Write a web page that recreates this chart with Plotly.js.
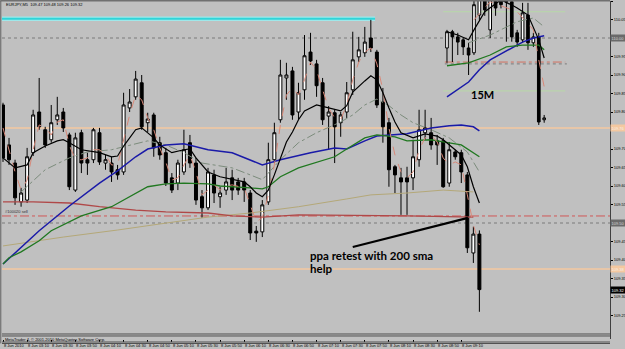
<!DOCTYPE html>
<html><head><meta charset="utf-8">
<script src="https://cdn.plot.ly/plotly-3.0.1.min.js"></script>
<style>html,body{margin:0;padding:0;background:#c0c0c0;}#chart{width:625px;height:349px;}</style>
</head><body><div id="chart"></div>
<script>
// ---- main M5 candles (bar index 0 = 8 Jun 02:50, 5 min per bar) ----
const opens = [109.819,109.711,109.662,109.557,109.562,109.690,109.800,109.752,109.725,109.779,
109.800,109.738,109.589,109.744,109.671,109.671,109.744,109.662,109.662,109.644,
109.638,109.811,109.841,109.879,109.771,109.792,109.717,109.690,109.622,109.608,
109.638,109.717,109.662,109.571,109.541,109.630,109.571,109.589,109.622,109.611,
109.611,109.581,109.478,109.476,109.557,109.671,109.779,109.892,109.911,109.800,
109.860,109.962,109.930,109.879,109.789,109.798,109.771,109.800,109.860,109.949,
109.960,110.000,109.962,109.827,109.771,109.652,109.622,109.622,109.622,109.671,
109.744,109.744,109.722,109.722,109.608,109.692,109.690,109.630,109.419,109.47];
const highs = [109.825,109.730,109.671,109.595,109.703,109.806,109.892,109.760,109.819,109.841,
109.811,109.744,109.744,109.752,109.690,109.757,109.757,109.684,109.679,109.657,
109.852,109.862,109.911,109.900,109.798,109.798,109.733,109.703,109.635,109.671,
109.752,109.738,109.676,109.589,109.649,109.644,109.598,109.649,109.644,109.622,
109.622,109.589,109.492,109.562,109.717,109.771,109.941,109.933,109.922,109.879,
110.008,110.014,109.941,109.892,109.816,109.806,109.800,109.881,110.017,110.003,
110.030,110.049,109.968,109.865,109.784,109.657,109.649,109.652,109.725,109.806,
109.806,109.784,109.738,109.730,109.719,109.698,109.698,109.638,109.49,109.48];
const lows = [109.665,109.657,109.549,109.544,109.554,109.681,109.752,109.703,109.717,109.765,
109.746,109.589,109.584,109.635,109.630,109.662,109.657,109.644,109.611,109.617,
109.630,109.800,109.833,109.752,109.746,109.679,109.671,109.600,109.581,109.589,
109.630,109.649,109.549,109.514,109.535,109.554,109.541,109.576,109.562,109.576,
109.557,109.454,109.449,109.462,109.549,109.662,109.771,109.833,109.779,109.779,
109.833,109.927,109.841,109.765,109.698,109.662,109.733,109.784,109.846,109.935,
109.949,109.962,109.811,109.717,109.598,109.581,109.522,109.522,109.589,109.652,
109.725,109.698,109.657,109.595,109.598,109.671,109.608,109.419,109.392,109.26];
const closes = [109.676,109.671,109.568,109.581,109.679,109.792,109.760,109.711,109.771,109.792,
109.757,109.598,109.730,109.662,109.662,109.752,109.665,109.671,109.638,109.630,
109.819,109.827,109.889,109.760,109.781,109.703,109.684,109.608,109.589,109.662,
109.698,109.662,109.562,109.541,109.638,109.581,109.581,109.611,109.589,109.589,
109.589,109.473,109.473,109.549,109.671,109.744,109.900,109.900,109.792,109.852,
109.952,109.938,109.871,109.779,109.800,109.760,109.792,109.852,109.941,109.968,
109.989,109.973,109.819,109.760,109.644,109.630,109.611,109.611,109.679,109.752,
109.757,109.711,109.711,109.598,109.698,109.679,109.638,109.433,109.47,109.32];
const barIdx = opens.map((_, i) => i);

// ---- moving averages (bar index, price) ----
const blueX = [0,6,11,16,19,22,24,27,30,34,38,43,46,51,55,57,60,62,67,71,74,76,78,79];
const blueY = [109.389,109.479,109.546,109.608,109.641,109.679,109.700,109.711,109.714,109.698,109.690,109.657,109.671,109.690,109.703,109.700,109.722,109.735,109.741,109.757,109.763,109.765,109.760,109.749];
const greenX = [0,1,3,6,8,13,18,22,24,27,30,34,36,41,43,44,46,49,52,55,57,60,62,65,67,71,73,76,79];
const greenY = [109.389,109.406,109.422,109.452,109.479,109.519,109.544,109.581,109.598,109.606,109.608,109.606,109.600,109.595,109.592,109.598,109.625,109.649,109.665,109.679,109.700,109.730,109.738,109.733,109.722,109.725,109.719,109.711,109.679];
const blackX = [0,2,4,5,7,9,10,11,13,16,18,19,20,22,23,25,26,28,30,31,32,34,36,38,40,41,42,43,44,45,46,47,48,49,50,52,54,56,57,58,60,61,62,63,64,65,66,68,70,72,73,75,76,77,78,79];
const blackY = [109.676,109.649,109.657,109.690,109.708,109.722,109.725,109.717,109.698,109.690,109.679,109.681,109.708,109.752,109.757,109.730,109.711,109.690,109.698,109.700,109.676,109.638,109.625,109.619,109.611,109.598,109.581,109.571,109.589,109.630,109.676,109.719,109.746,109.779,109.803,109.819,109.811,109.803,109.817,109.854,109.884,109.898,109.887,109.852,109.811,109.773,109.744,109.730,109.741,109.735,109.725,109.698,109.684,109.652,109.598,109.554];
const salmonY = [109.757,109.698,109.638,109.589,109.616,109.698,109.765,109.757,109.738,109.773,
109.779,109.711,109.671,109.671,109.676,109.698,109.698,109.684,109.657,109.657,
109.725,109.792,109.846,109.833,109.784,109.752,109.703,109.665,109.616,109.622,
109.657,109.684,109.638,109.576,109.589,109.603,109.589,109.600,109.603,109.598,
109.595,109.549,109.503,109.514,109.576,109.657,109.765,109.846,109.865,109.846,
109.887,109.935,109.914,109.860,109.811,109.784,109.779,109.819,109.887,109.935,
109.962,109.973,109.930,109.860,109.757,109.684,109.638,109.622,109.638,109.698,
109.730,109.738,109.719,109.676,109.657,109.665,109.657,109.576,109.495,109.441];
const grayX = [3,7,11,14,18,20,24,27,30,33,38,41,43,46,49,52,56,58,60,62,64,66,68,71,74,77,79];
const grayY = [109.584,109.644,109.676,109.692,109.698,109.706,109.722,109.711,109.690,109.662,109.649,109.630,109.617,109.671,109.717,109.744,109.773,109.792,109.819,109.835,109.817,109.792,109.771,109.752,109.730,109.692,109.638];
const oliveX = [0,10,19,26,34,41,49,57,61,67,73,78];
const oliveY = [109.438,109.462,109.481,109.498,109.516,109.527,109.544,109.565,109.576,109.581,109.589,109.584];
const sma200X = [0,5,11,16,22,27,34,38,43,49,67,78];
const sma200Y = [109.557,109.557,109.554,109.544,109.535,109.530,109.527,109.519,109.516,109.522,109.519,109.516];

// ---- price levels ----
const cyanLevel = 110.052, cyanEndBar = 61.7;
const dottedHigh = 110.00, dottedLow = 109.50;
const orangeHigh = 109.757, orangeLow = 109.376;
const sellLevel = 109.519;
const lastPrice = 109.32;
const trendX = [58.0, 77.1], trendY = [109.435, 109.514];
const priceTicks = [110.10,110.05,109.95,109.90,109.85,109.80,109.70,109.65,109.60,109.55,109.45,109.40,109.35,109.30,109.25];

// ---- time labels ----
const timeLabels = ['8 Jun 2010','8 Jun 03:10','8 Jun 03:30','8 Jun 03:50','8 Jun 04:10','8 Jun 04:30','8 Jun 04:50','8 Jun 05:10','8 Jun 05:30','8 Jun 05:50','8 Jun 06:10','8 Jun 06:30','8 Jun 06:50','8 Jun 07:10','8 Jun 07:30','8 Jun 07:50','8 Jun 08:10','8 Jun 08:30','8 Jun 08:50','8 Jun 09:10'];
const timeBars = timeLabels.map((_, k) => k * 4);

// ---- inset 15M chart ----
const inO = [109.973,110.017,110.003,109.995,109.973,109.960,110.062,110.117,110.022,110.111,110.103,110.098,110.098,110.014,109.995,110.062,109.987,110.003,109.779];
const inH = [110.022,110.022,110.014,110.000,109.987,110.110,110.130,110.130,110.140,110.130,110.120,110.110,110.110,110.022,110.095,110.095,110.014,110.014,109.792];
const inL = [109.933,109.935,109.954,109.954,109.900,109.954,110.049,110.060,110.000,110.060,110.080,109.990,109.990,109.976,109.987,109.968,109.976,109.765,109.771];
const inC = [110.017,110.003,109.989,109.976,109.954,110.090,110.117,110.076,110.117,110.081,110.090,110.098,110.003,109.989,110.068,109.987,110.003,109.773,109.784];
const inIdx = inO.map((_, j) => j);
const inBlueX = [0,2,4,6,8,10,12,14,16,18];
const inBlueY = [109.841,109.860,109.881,109.914,109.941,109.957,109.973,109.989,110.000,110.006];
const inGreenX = [0,4,8,11,14,17,18];
const inGreenY = [109.925,109.933,109.954,109.976,109.981,109.981,109.968];
const inBlackX = [0,2,4,5,7,10,12,13,15,16,17,18];
const inBlackY = [110.017,110.008,109.995,110.022,110.071,110.103,110.089,110.081,110.062,110.027,109.995,109.946];
const inSalmonX = [5,8,13,16,17,18];
const inSalmonY = [110.049,110.098,110.071,110.022,109.941,109.868];
const inGrayX = [4,8,13,16,18];
const inGrayY = [109.987,110.008,110.044,110.054,110.030];
const inLevels = [110.071, 109.857];
const inRed = 109.935, inDot = 109.930;

const candleStyle = {
  increasing: {line: {color: '#000000', width: 1}, fillcolor: '#ffffff'},
  decreasing: {line: {color: '#000000', width: 1}, fillcolor: '#000000'},
  hoverinfo: 'skip', showlegend: false
};
function line(x, y, color, width, dash, xa) {
  return {type: 'scatter', mode: 'lines', x: x, y: y, xaxis: xa || 'x', yaxis: 'y',
    line: {color: color, width: width, dash: dash || 'solid'}, hoverinfo: 'skip', showlegend: false};
}

const traces = [
  line(oliveX, oliveY, '#b4a878', 1),
  line(sma200X, sma200Y, '#b04848', 1.3),
  line(grayX, grayY, '#7c8c7c', 1, 'dashdot'),
  line(blueX, blueY, '#1a1aa8', 1.5),
  line(greenX, greenY, '#207820', 1.3),
  line(barIdx, salmonY, '#d88878', 1, 'dash'),
  Object.assign({type: 'candlestick', x: barIdx, open: opens, high: highs, low: lows, close: closes, xaxis: 'x', yaxis: 'y'}, candleStyle),
  line(blackX, blackY, '#000000', 1.2),
  line(trendX, trendY, '#000000', 2.2),
  // inset
  line(inBlueX, inBlueY, '#1a1aa8', 1.5, null, 'x2'),
  line(inGreenX, inGreenY, '#207820', 1.3, null, 'x2'),
  line(inGrayX, inGrayY, '#7c8c7c', 1, 'dashdot', 'x2'),
  line(inSalmonX, inSalmonY, '#d88878', 1, 'dash', 'x2'),
  Object.assign({type: 'candlestick', x: inIdx, open: inO, high: inH, low: inL, close: inC, xaxis: 'x2', yaxis: 'y'}, candleStyle),
  line(inBlackX, inBlackY, '#000000', 1.2, null, 'x2')
];

const shapes = [
  {type: 'line', xref: 'x', yref: 'y', x0: -0.2, x1: cyanEndBar, y0: cyanLevel, y1: cyanLevel, line: {color: '#9ee8ea', width: 4.5}, layer: 'below'},
  {type: 'line', xref: 'x', yref: 'y', x0: -0.2, x1: cyanEndBar, y0: cyanLevel, y1: cyanLevel, line: {color: '#30d4d8', width: 2}, layer: 'below'},
  {type: 'line', xref: 'paper', yref: 'y', x0: 0, x1: 1, y0: dottedHigh, y1: dottedHigh, line: {color: '#7a7a7a', width: 1, dash: 'dot'}, layer: 'below'},
  {type: 'line', xref: 'paper', yref: 'y', x0: 0, x1: 1, y0: dottedLow, y1: dottedLow, line: {color: '#7a7a7a', width: 1, dash: 'dot'}, layer: 'below'},
  {type: 'line', xref: 'paper', yref: 'y', x0: 0, x1: 1, y0: orangeHigh, y1: orangeHigh, line: {color: '#f4c8a0', width: 1.5}, layer: 'below'},
  {type: 'line', xref: 'paper', yref: 'y', x0: 0, x1: 1, y0: orangeLow, y1: orangeLow, line: {color: '#f4c8a0', width: 1.5}, layer: 'below'},
  {type: 'line', xref: 'paper', yref: 'y', x0: 0, x1: 1, y0: sellLevel, y1: sellLevel, line: {color: '#d05858', width: 1, dash: 'dashdot'}, layer: 'below'},
  {type: 'line', xref: 'x2', yref: 'y', x0: -0.7, x1: 21.9, y0: inLevels[0], y1: inLevels[0], line: {color: '#b8d8a8', width: 1}, layer: 'below'},
  {type: 'line', xref: 'x2', yref: 'y', x0: -0.7, x1: 21.9, y0: inLevels[1], y1: inLevels[1], line: {color: '#b8d8a8', width: 1}, layer: 'below'},
  {type: 'line', xref: 'x2', yref: 'y', x0: -0.4, x1: 21.9, y0: inRed, y1: inRed, line: {color: '#d07060', width: 1, dash: 'dashdot'}, layer: 'below'},
  {type: 'line', xref: 'x2', yref: 'y', x0: -0.4, x1: 22.2, y0: inDot, y1: inDot, line: {color: '#7a7a7a', width: 1, dash: 'dot'}, layer: 'below'},
  // frame
  {type: 'line', xref: 'paper', yref: 'paper', x0: -0.003, x1: 1, y0: 1.0015, y1: 1.0015, line: {color: '#707070', width: 2}},
  {type: 'line', xref: 'paper', yref: 'paper', x0: -0.002, x1: -0.002, y0: -0.013, y1: 1, line: {color: '#606060', width: 1}},
  {type: 'line', xref: 'paper', yref: 'paper', x0: 0, x1: 1, y0: 0.0148, y1: 0.0148, line: {color: '#505050', width: 1}},
  {type: 'line', xref: 'paper', yref: 'paper', x0: 0, x1: 1, y0: 0.0089, y1: 0.0089, line: {color: '#505050', width: 1}},
  {type: 'line', xref: 'paper', yref: 'paper', x0: 0, x1: 1, y0: -0.0089, y1: -0.0089, line: {color: '#505050', width: 1}},
  {type: 'line', xref: 'paper', yref: 'paper', x0: 0, x1: 1, y0: -0.0133, y1: -0.0133, line: {color: '#505050', width: 1}}
];

const tiny = {family: 'Liberation Sans, Arial, sans-serif', size: 4, color: '#000000'};
function axisTag(level, text, bg, fg) {
  return {xref: 'paper', yref: 'y', x: 1, y: level, xanchor: 'left', yanchor: 'middle', text: text, showarrow: false,
    bgcolor: bg, borderpad: 0.5, font: {family: tiny.family, size: 4, color: fg}};
}
const bold = {family: 'Lato, Open Sans, sans-serif', size: 11.5, color: '#000000'};
const annotations = [
  {xref: 'paper', yref: 'paper', x: 0.004, y: 0.991, xanchor: 'left', yanchor: 'middle', showarrow: false,
   text: 'EURJPY,M5  109.47 109.48 109.26 109.32', font: tiny},
  {xref: 'paper', yref: 'y', x: 0.001, y: sellLevel, xanchor: 'left', yanchor: 'bottom', showarrow: false,
   text: '#100020 sell', font: {family: tiny.family, size: 4, color: '#303030'}},
  {xref: 'paper', yref: 'paper', x: 0.002, y: -0.001, xanchor: 'left', yanchor: 'middle', showarrow: false,
   text: 'MetaTrader 4, © 2001-2010 MetaQuotes Software Corp.', font: tiny},
  {xref: 'x', yref: 'y', x: 50.6, y: 109.411, xanchor: 'left', yanchor: 'middle', showarrow: false,
   text: '<b>ppa retest with 200 sma</b>', font: bold},
  {xref: 'x', yref: 'y', x: 50.6, y: 109.378, xanchor: 'left', yanchor: 'middle', showarrow: false,
   text: '<b>help</b>', font: bold},
  {xref: 'x2', yref: 'y', x: 6.5, y: 109.846, xanchor: 'center', yanchor: 'middle', showarrow: false,
   text: '<b>15M</b>', font: {family: 'Lato, Open Sans, sans-serif', size: 11, color: '#000000'}},
  axisTag(dottedHigh, '110.00', '#6a6a6a', '#d8d8d8'),
  axisTag(orangeHigh, '109.76', '#f4c8a0', '#f8f0e8'),
  axisTag(dottedLow, '109.50', '#6a6a6a', '#d8d8d8'),
  axisTag(orangeLow, '109.38', '#f4c8a0', '#f8f0e8'),
  axisTag(lastPrice, '109.32', '#000000', '#ffffff')
];
// time axis labels (MetaTrader puts them to the right of each tick)
timeLabels.forEach((t, k) => annotations.push({xref: 'x', yref: 'paper', x: timeBars[k], y: -0.019,
  xanchor: 'left', yanchor: 'middle', showarrow: false, text: t, font: tiny, borderpad: 0}));

const layout = {
  width: 625, height: 349,
  margin: {l: 2, r: 15, t: 1, b: 10},
  paper_bgcolor: '#c0c0c0', plot_bgcolor: '#c0c0c0',
  showlegend: false,
  xaxis: {range: [-0.166, 100.66], tickvals: timeBars, showticklabels: false, ticks: 'outside', ticklen: 2,
    tickcolor: '#000000', showgrid: false, zeroline: false,
    showline: false, rangeslider: {visible: false}, fixedrange: true},
  xaxis2: {range: [-82.41, 30.19], overlaying: 'x', anchor: 'y', visible: false, rangeslider: {visible: false}},
  yaxis: {side: 'right', range: [109.1865, 110.1000], tickvals: priceTicks, tickformat: '.2f',
    ticks: 'outside', ticklen: 2, tickcolor: '#000000', tickfont: tiny, showgrid: false, zeroline: false,
    showline: true, linecolor: '#404040', linewidth: 1},
  shapes: shapes,
  annotations: annotations
};

Plotly.newPlot('chart', traces, layout, {displayModeBar: false, staticPlot: true});
</script>
</body></html>
